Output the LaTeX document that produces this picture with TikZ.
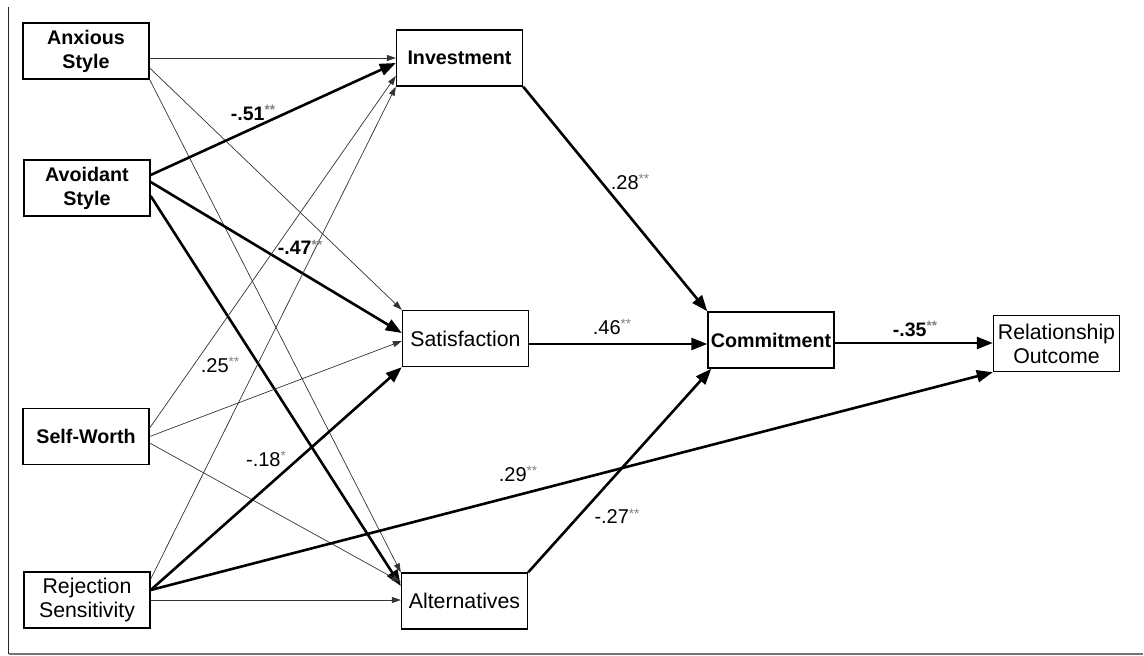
\documentclass[tikz,border=0pt]{standalone}
\usepackage{fontspec}
\setmainfont{Liberation Sans}
\usetikzlibrary{arrows.meta}
\tikzset{
 box/.style={draw, line width=1.4pt, minimum width=126pt, minimum height=56pt, inner sep=0pt, align=center, font=\fontsize{19.7}{24}\selectfont\bfseries},
 boxr/.style={box, font=\fontsize{21.3}{24}\selectfont},
 thinarr/.style={line width=0.7pt, black!80, -{Triangle[length=9pt,width=6pt]}},
 thickarr/.style={line width=2.6pt, -{Triangle[length=16pt,width=12pt]}},
 lab/.style={font=\fontsize{20}{22}\selectfont, inner sep=0pt},
 labb/.style={lab, font=\fontsize{19.5}{22}\selectfont\bfseries},
}
\newcommand{\sigstar}[1]{\textcolor{gray}{\raisebox{0.5ex}{\fontsize{13.5}{13.5}\selectfont #1}}}
\begin{document}
\begin{tikzpicture}[x=1pt,y=-1pt]
\useasboundingbox (0,0) rectangle (1144,656);
% frame
\draw[line width=1.8pt, black!85] (8.5,7) -- (8.5,654);
\draw[line width=1.8pt, black!55] (8.5,654) -- (1143,654);
% nodes
\node[box] (anx) at (86,51) {Anxious\\Style};
\node[box] (avo) at (87,188) {Avoidant\\Style};
\node[box] (sw) at (86,436.5) {Self-Worth};
\node[boxr] (rs) at (87,600) {Rejection\\Sensitivity};
\node[box] (inv) at (459.5,58) {Investment};
\node[boxr] (sat) at (465.5,338.5) {Satisfaction};
\node[boxr] (alt) at (464.5,601) {Alternatives};
\node[box] (com) at (771,340) {Commitment};
\node[boxr] (ro) at (1056.5,343.5) {Relationship\\Outcome};
% helper coordinates
\coordinate (s1) at ([yshift=-5.5pt]sat.east);
\coordinate (c1) at ([yshift=-3pt]com.east);
% anxious
\draw[thinarr] (anx.east |- inv.west) -- (inv.west);
\draw[thinarr] ([yshift=-17pt]anx.east) -- (sat.north west);
\draw[thinarr] (anx.south east) -- (alt.north west);
% avoidant
\draw[thickarr] ([yshift=13pt]avo.east) -- ([yshift=-5pt]inv.west);
\draw[thickarr] ([yshift=6pt]avo.east) -- ([yshift=5.5pt]sat.west);
\draw[thickarr] ([yshift=-8pt]avo.east) -- ([yshift=15pt]alt.west);
% self-worth
\draw[thinarr] ([yshift=8.5pt]sw.east) -- ([yshift=-18pt]inv.west);
\draw[thinarr] (sw.east) -- ([yshift=-2.5pt]sat.west);
\draw[thinarr] ([yshift=-6.5pt]sw.east) -- ([yshift=19pt]alt.west);
% rejection sensitivity
\draw[thinarr] ([yshift=21pt]rs.east) -- (inv.south west);
\draw[thickarr] ([yshift=10pt]rs.east) -- (sat.south west);
\draw[thickarr] ([yshift=10pt]rs.east) -- (ro.south west);
\draw[thinarr] (rs.east) -- (rs.east -| alt.west);
% mediators
\draw[thickarr] (inv.south east) -- (com.north west);
\draw[thickarr] (s1) -- (s1 -| com.west);
\draw[thickarr] (alt.north east) -- ([xshift=4pt]com.south west);
\draw[thickarr] (c1) -- (c1 -| ro.west);
% labels
\node[labb] (l1) at (253,113) {-.51\sigstar{**}};
\node[labb] (l2) at (300,247) {-.47\sigstar{**}};
\node[lab] (l3) at (220,365) {.25\sigstar{**}};
\node[lab] (l4) at (266,459) {-.18\sigstar{*}};
\node[lab] (l5) at (630,182) {.28\sigstar{**}};
\node[lab] (l6) at (612,327) {.46\sigstar{**}};
\node[labb] (l7) at (915,329) {-.35\sigstar{**}};
\node[lab] (l8) at (518,474) {.29\sigstar{**}};
\node[lab] (l9) at (617,516) {-.27\sigstar{**}};
\end{tikzpicture}
\end{document}
